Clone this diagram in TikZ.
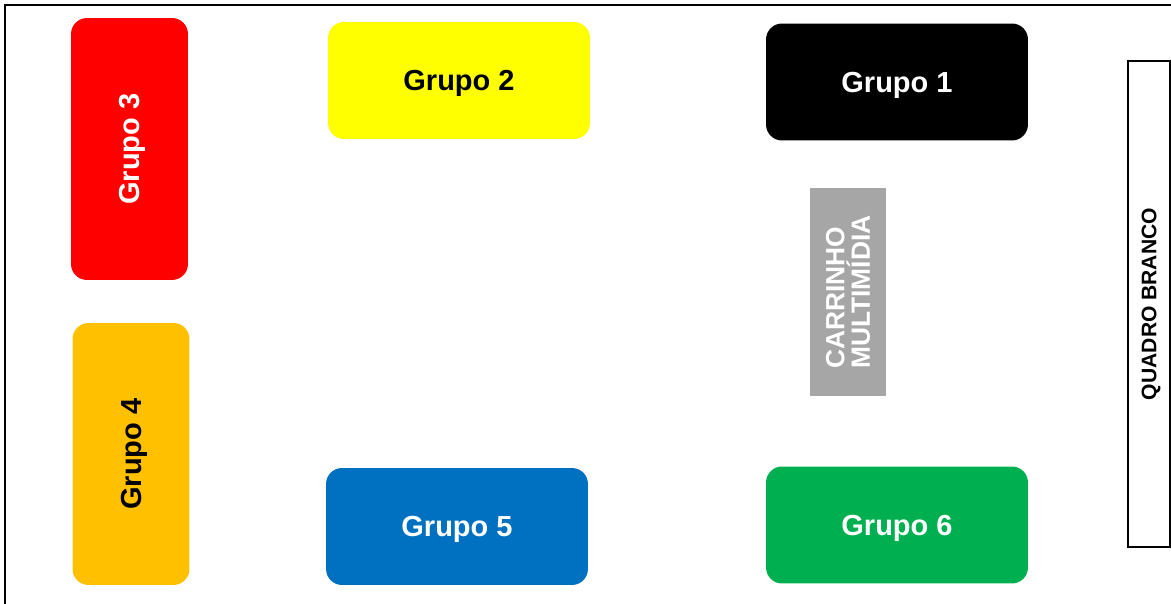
\documentclass[tikz,border=0pt]{standalone}
\usepackage{fontspec}
\setmainfont{Liberation Sans}
\usetikzlibrary{positioning}
\definecolor{grupoA}{HTML}{000000}
\definecolor{grupoB}{HTML}{FFFF00}
\definecolor{grupoC}{HTML}{FF0000}
\definecolor{grupoD}{HTML}{FFC000}
\definecolor{grupoE}{HTML}{0070C0}
\definecolor{grupoF}{HTML}{00B050}
\definecolor{carrinho}{HTML}{A6A6A6}
\begin{document}
\begin{tikzpicture}[x=0.02cm, y=-0.02cm,
    mesa/.style={rectangle, rounded corners=0.32cm, inner sep=0pt,
      minimum width=5.24cm, minimum height=2.34cm, text depth=0pt,
      font=\fontsize{16.5}{19}\selectfont\bfseries},
    mesaV/.style={mesa, rotate=90},
    carro/.style={rectangle, fill=carrinho, text=white, inner sep=0pt,
      minimum width=4.16cm, minimum height=1.52cm, rotate=90, align=left,
      font=\fontsize{15}{12.5}\selectfont\bfseries},
    quadro/.style={rectangle, draw=black, line width=1pt, inner sep=0pt,
      minimum width=9.72cm, minimum height=0.84cm, rotate=90, text depth=0pt,
      font=\fontsize{12}{14}\selectfont\bfseries}]
      \useasboundingbox (0, 0) rectangle (1171, 604);
      \draw[line width=1pt] (5, 604) |- (1171, 5);

      \node[mesaV, fill=grupoC, text=white] (g3) at (129.5, 149) {Grupo 3};
      \node[mesa, fill=grupoB] (g2) at (459, 80.5) {Grupo 2};
      \node[mesa, fill=grupoA, text=white] (g1) at (897, 82) {Grupo 1};

      \node[mesaV, fill=grupoD] (g4) at (131, 454) {Grupo 4};
      \node[mesa, fill=grupoE, text=white] (g5) at (457, 526.5) {Grupo 5};
      \node[mesa, fill=grupoF, text=white] (g6) at (897, 525) {Grupo 6};

      \node[carro] (cm) at (848, 292) {CARRINHO\\MULTIMÍDIA};
      \node[quadro] (qb) at (1149, 304) {QUADRO BRANCO};

    \end{tikzpicture}
\end{document}
